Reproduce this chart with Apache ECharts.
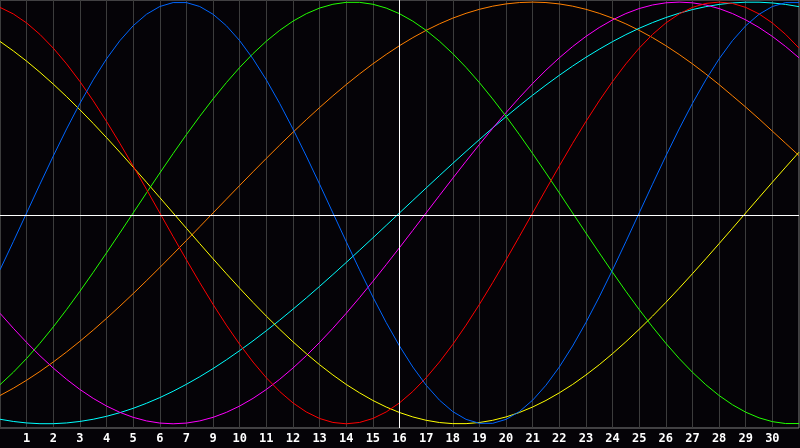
<!DOCTYPE html>
<html><head><meta charset="utf-8">
<script src="https://cdn.jsdelivr.net/npm/echarts@6/dist/echarts.min.js"></script>
<style>html,body{margin:0;padding:0;background:#050307;}#c{width:800px;height:448px;}</style>
</head><body><div id="c"></div>
<script>
const days = [0,0.5,1,1.5,2,2.5,3,3.5,4,4.5,5,5.5,6,6.5,7,7.5,8,8.5,9,9.5,10,10.5,11,11.5,12,12.5,13,13.5,14,14.5,15,15.5,16,16.5,17,17.5,18,18.5,19,19.5,20,20.5,21,21.5,22,22.5,23,23.5,24,24.5,25,25.5,26,26.5,27,27.5,28,28.5,29,29.5,30];
const tickLabels = ['1','2','3','4','5','6','7','9','10','11','12','13','14','15','16','17','18','19','20','21','22','23','24','25','26','27','28','29','30'];

const blue = [-0.2698,-0.1362,0,0.1362,0.2698,0.3984,0.5196,0.6311,0.7308,0.8170,0.8879,0.9423,0.9791,0.9977,0.9977,0.9791,0.9423,0.8879,0.8170,0.7308,0.6311,0.5196,0.3984,0.2698,0.1362,0,-0.1362,-0.2698,-0.3984,-0.5196,-0.6311,-0.7308,-0.8170,-0.8879,-0.9423,-0.9791,-0.9977,-0.9977,-0.9791,-0.9423,-0.8879,-0.8170,-0.7308,-0.6311,-0.5196,-0.3984,-0.2698,-0.1362,0,0.1362,0.2698,0.3984,0.5196,0.6311,0.7308,0.8170,0.8879,0.9423,0.9791,0.9977,0.9977];
const red = [0.9749,0.9439,0.9010,0.8467,0.7818,0.7071,0.6235,0.5320,0.4339,0.3303,0.2225,0.1120,0,-0.1120,-0.2225,-0.3303,-0.4339,-0.5320,-0.6235,-0.7071,-0.7818,-0.8467,-0.9010,-0.9439,-0.9749,-0.9937,-1,-0.9937,-0.9749,-0.9439,-0.9010,-0.8467,-0.7818,-0.7071,-0.6235,-0.5320,-0.4339,-0.3303,-0.2225,-0.1120,0,0.1120,0.2225,0.3303,0.4339,0.5320,0.6235,0.7071,0.7818,0.8467,0.9010,0.9439,0.9749,0.9937,1,0.9937,0.9749,0.9439,0.9010,0.8467,0.7818];
const green = [-0.8146,-0.7557,-0.6901,-0.6182,-0.5406,-0.4582,-0.3717,-0.2817,-0.1893,-0.0951,0,0.0951,0.1893,0.2817,0.3717,0.4582,0.5406,0.6182,0.6901,0.7557,0.8146,0.8660,0.9096,0.9450,0.9718,0.9898,0.9989,0.9989,0.9898,0.9718,0.9450,0.9096,0.8660,0.8146,0.7557,0.6901,0.6182,0.5406,0.4582,0.3717,0.2817,0.1893,0.0951,0,-0.0951,-0.1893,-0.2817,-0.3717,-0.4582,-0.5406,-0.6182,-0.6901,-0.7557,-0.8146,-0.8660,-0.9096,-0.9450,-0.9718,-0.9898,-0.9989,-0.9989];
const magenta = [-0.4759,-0.5469,-0.6142,-0.6773,-0.7357,-0.7891,-0.8372,-0.8795,-0.9158,-0.9458,-0.9694,-0.9864,-0.9966,-1,-0.9966,-0.9864,-0.9694,-0.9458,-0.9158,-0.8795,-0.8372,-0.7891,-0.7357,-0.6773,-0.6142,-0.5469,-0.4759,-0.4017,-0.3247,-0.2455,-0.1646,-0.0826,0,0.0826,0.1646,0.2455,0.3247,0.4017,0.4759,0.5469,0.6142,0.6773,0.7357,0.7891,0.8372,0.8795,0.9158,0.9458,0.9694,0.9864,0.9966,1,0.9966,0.9864,0.9694,0.9458,0.9158,0.8795,0.8372,0.7891,0.7357];
const yellow = [0.8135,0.7685,0.7199,0.6671,0.6111,0.5517,0.4894,0.4245,0.3572,0.2881,0.2174,0.1456,0.0730,0,-0.0730,-0.1456,-0.2174,-0.2881,-0.3572,-0.4245,-0.4894,-0.5517,-0.6111,-0.6671,-0.7199,-0.7685,-0.8135,-0.8533,-0.8894,-0.9204,-0.9465,-0.9675,-0.9834,-0.9940,-0.9993,-0.9993,-0.9940,-0.9834,-0.9675,-0.9465,-0.9204,-0.8894,-0.8533,-0.8135,-0.7685,-0.7199,-0.6671,-0.6111,-0.5517,-0.4894,-0.4245,-0.3572,-0.2881,-0.2174,-0.1456,-0.0730,0,0.0730,0.1456,0.2174,0.2881];
const orange = [-0.8660,-0.8315,-0.7934,-0.7518,-0.7071,-0.6593,-0.6088,-0.5556,-0.5,-0.4423,-0.3827,-0.3214,-0.2588,-0.1951,-0.1305,-0.0654,0,0.0654,0.1305,0.1951,0.2588,0.3214,0.3827,0.4423,0.5,0.5556,0.6088,0.6593,0.7071,0.7518,0.7934,0.8315,0.8660,0.8969,0.9239,0.9469,0.9659,0.9808,0.9914,0.9979,1,0.9979,0.9914,0.9808,0.9659,0.9469,0.9239,0.8969,0.8660,0.8315,0.7934,0.7518,0.7071,0.6593,0.6088,0.5556,0.5020,0.4460,0.3880,0.3300,0.2720];
const cyan = [-0.9785,-0.9890,-0.9960,-0.9996,-0.9996,-0.9960,-0.9890,-0.9785,-0.9646,-0.9473,-0.9267,-0.9028,-0.8759,-0.8458,-0.8127,-0.7767,-0.7381,-0.6967,-0.6528,-0.6067,-0.5586,-0.5085,-0.4566,-0.4032,-0.3482,-0.2920,-0.2349,-0.1769,-0.1183,-0.0592,0,0.0592,0.1183,0.1769,0.2349,0.2920,0.3482,0.4032,0.4566,0.5085,0.5586,0.6067,0.6528,0.6967,0.7381,0.7767,0.8127,0.8458,0.8759,0.9028,0.9267,0.9473,0.9646,0.9785,0.9890,0.9960,0.9996,0.9996,0.9960,0.9890,0.9785];

const seriesDefs = [
  {name:'orange', data: orange, color:'#ff8000'},
  {name:'cyan', data: cyan, color:'#00ffff'},
  {name:'magenta', data: magenta, color:'#ff00ff'},
  {name:'yellow', data: yellow, color:'#ffff00'},
  {name:'green', data: green, color:'#22ff00'},
  {name:'red', data: red, color:'#ff0000'},
  {name:'blue', data: blue, color:'#0066ff'}
];

const chart = echarts.init(document.getElementById('c'), null, {renderer:'canvas'});
const series = seriesDefs.map(s => ({
  type:'line', name:s.name, smooth:false, symbol:'none', silent:true,
  data: days.map((d,i)=>[d, s.data[i]]),
  lineStyle:{color:s.color, width:1},
  z: 3
}));
series.push({
  type:'line', data:[], symbol:'none', silent:true, z:2,
  markLine:{silent:true, symbol:'none', label:{show:false},
    lineStyle:{color:'#ffffff', width:1, type:'solid'},
    data:[{yAxis:-0.005},{xAxis:15}]}
});
chart.setOption({
  backgroundColor:'#050307',
  animation:false,
  grid:{left:0, right:1, top:0, bottom:20, show:true, borderColor:'#808080', borderWidth:1, backgroundColor:'transparent'},
  xAxis:{type:'value', min:0, max:30, interval:1,
    axisLine:{show:false}, axisTick:{show:false},
    splitLine:{show:true, lineStyle:{color:'#3c3c3c', width:1}},
    axisLabel:{color:'#ffffff', fontFamily:'DejaVu Sans Mono', fontWeight:'bold', fontSize:12, margin:5,
      showMinLabel:false, showMaxLabel:false,
      formatter: v => (v>=1 && v<=29) ? tickLabels[v-1] : ''}
  },
  yAxis:{type:'value', min:-1.02, max:1.01, show:true, axisLine:{show:false}, axisTick:{show:false}, axisLabel:{show:false}, splitLine:{show:false}},
  series: series
});
</script></body></html>
